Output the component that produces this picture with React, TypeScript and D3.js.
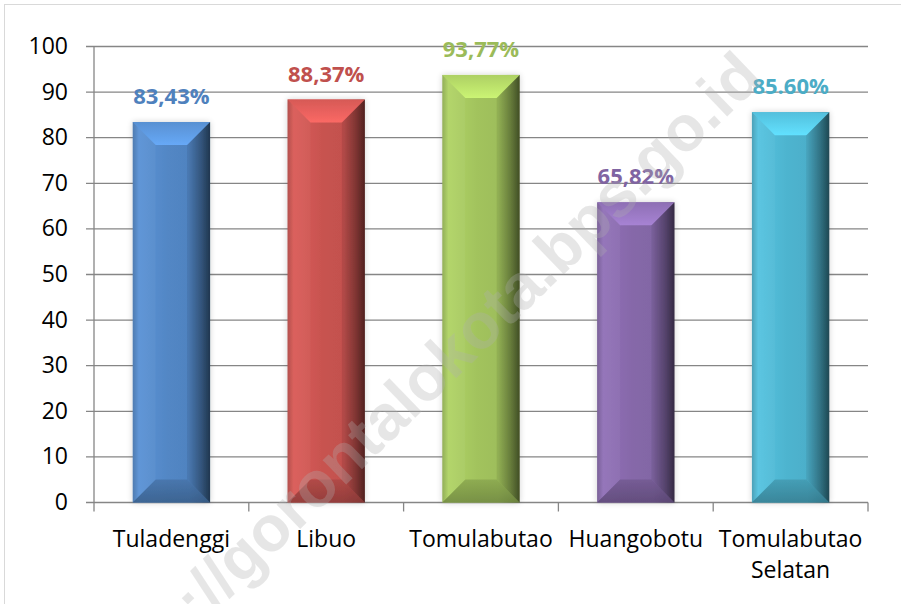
import React from 'react';
import * as d3 from 'd3';

// Data
const categories = ['Tuladenggi', 'Libuo', 'Tomulabutao', 'Huangobotu', 'Tomulabutao Selatan'];
const values = [83.43, 88.37, 93.77, 65.82, 85.6];
const valueLabels = ['83,43%', '88,37%', '93,77%', '65,82%', '85.60%'];
const yTicks = [0, 10, 20, 30, 40, 50, 60, 70, 80, 90, 100];
const barColors = ['#4F81BD', '#C0504D', '#9BBB59', '#8064A2', '#4BACC6'];
const labelColors = ['#4F81BD', '#C0504D', '#9BBB59', '#8064A2', '#4BACC6'];

const W = 901;
const H = 604;
const margin = { left: 94, right: 33, top: 46.5, bottom: 101.5 };
const font = '"Open Sans", Lato, sans-serif';

export default function App() {
  const x = d3.scaleBand<string>().domain(categories).range([margin.left, W - margin.right]).padding(0);
  const y = d3.scaleLinear().domain([0, 100]).range([H - margin.bottom, margin.top]);
  const barW = x.bandwidth() * 0.5;
  const bev = 23;
  const gridColor = '#868686';

  return (
    <svg width={W} height={H} style={{ position: 'absolute', left: 0, top: 0, background: '#fff' }}>
      <defs>
        {barColors.map((c, i) => {
          const base = d3.color(c)!;
          const light = d3.color(c)!.brighter(0.35);
          const dark = d3.color(c)!.darker(2.2);
          return (
            <React.Fragment key={i}>
              <linearGradient id={`side${i}`} x1="0" x2="1" y1="0" y2="0">
                <stop offset="0" stopColor={d3.color(c)!.darker(0.25).formatHex()} />
                <stop offset="0.08" stopColor={light.formatHex()} />
                <stop offset="0.45" stopColor={base.brighter(0.12).formatHex()} />
                <stop offset="0.72" stopColor={base.brighter(0.05).formatHex()} />
                <stop offset="0.88" stopColor={d3.color(c)!.darker(0.9).formatHex()} />
                <stop offset="1" stopColor={dark.formatHex()} />
              </linearGradient>
              <linearGradient id={`top${i}`} x1="0" x2="0" y1="0" y2="1">
                <stop offset="0" stopColor={d3.color(c)!.brighter(0.3).formatHex()} />
                <stop offset="1" stopColor={d3.color(c)!.brighter(0.75).formatHex()} />
              </linearGradient>
              <linearGradient id={`bot${i}`} x1="0" x2="0" y1="0" y2="1">
                <stop offset="0" stopColor={d3.color(c)!.darker(0.3).formatHex()} />
                <stop offset="1" stopColor={d3.color(c)!.darker(0.9).formatHex()} />
              </linearGradient>
            </React.Fragment>
          );
        })}
        <filter id="glow" x="-20%" y="-10%" width="140%" height="120%">
          <feGaussianBlur in="SourceAlpha" stdDeviation="3" />
          <feComponentTransfer>
            <feFuncA type="linear" slope="0.18" />
          </feComponentTransfer>
          <feMerge>
            <feMergeNode />
            <feMergeNode in="SourceGraphic" />
          </feMerge>
        </filter>
      </defs>

      {/* outer frame */}
      <rect x={4.5} y={4.5} width={W} height={H} fill="none" stroke="#d9d9d9" strokeWidth={1} />

      {/* gridlines and y ticks */}
      {yTicks.map(t => (
        <line key={t} x1={margin.left - 8} x2={W - margin.right} y1={y(t)} y2={y(t)} stroke={gridColor} strokeWidth={1.3} />
      ))}
      {yTicks.map(t => (
        <text key={'l' + t} x={68} y={y(t)} dy="0.33em" textAnchor="end" fontFamily={font} fontSize={23} fill="#000">
          {t}
        </text>
      ))}
      <line x1={margin.left} x2={margin.left} y1={margin.top} y2={y(0)} stroke={gridColor} strokeWidth={1.3} />

      {/* x ticks */}
      {categories.concat(['end']).map((c, i) => {
        const px = margin.left + i * x.step();
        return <line key={'xt' + i} x1={px} x2={px} y1={y(0)} y2={y(0) + 9} stroke={gridColor} strokeWidth={1.3} />;
      })}

      {/* bars */}
      {categories.map((c, i) => {
        const cx = x(c)! + x.bandwidth() / 2;
        const x0 = cx - barW / 2;
        const x1 = cx + barW / 2;
        const yt = y(values[i]);
        const yb = y(0);
        return (
          <g key={c} filter="url(#glow)">
            <rect x={x0} y={yt} width={barW} height={yb - yt} fill={`url(#side${i})`} />
            <path d={`M${x0},${yt}L${x1},${yt}L${x1 - bev},${yt + bev}L${x0 + bev},${yt + bev}Z`} fill={`url(#top${i})`} />
            <path d={`M${x0},${yt}L${x0 + bev},${yt + bev}L${x0 + bev},${yb - bev}L${x0},${yb}Z`} fill="#fff" opacity={0.04} />
            <path d={`M${x1},${yt}L${x1 - bev},${yt + bev}L${x1 - bev},${yb - bev}L${x1},${yb}Z`} fill="#000" opacity={0.08} />
            <path d={`M${x0},${yb}L${x1},${yb}L${x1 - bev},${yb - bev}L${x0 + bev},${yb - bev}Z`} fill={`url(#bot${i})`} opacity={0.85} />
          </g>
        );
      })}

      {/* value labels */}
      {categories.map((c, i) => (
        <text key={'v' + c} x={x(c)! + x.bandwidth() / 2} y={y(values[i]) - 18} textAnchor="middle" fontFamily={font} fontWeight="bold" fontSize={22} fill={labelColors[i]}>
          {valueLabels[i]}
        </text>
      ))}

      {/* category labels */}
      {categories.map((c, i) => {
        const cx = x(c)! + x.bandwidth() / 2;
        const words = c === 'Tomulabutao Selatan' ? ['Tomulabutao', 'Selatan'] : [c];
        return (
          <text key={'c' + c} x={cx} y={547} textAnchor="middle" fontFamily={font} fontSize={23} fill="#000">
            {words.map((w, j) => (
              <tspan key={j} x={cx} dy={j === 0 ? 0 : 31}>{w}</tspan>
            ))}
          </text>
        );
      })}

      {/* watermark */}
      <text x={765} y={80} textAnchor="end" transform="rotate(-44 765 80)" fontFamily='"Liberation Sans", Arial, sans-serif' fontWeight="bold" fontSize={64} fill="#b0b0b0" opacity={0.3}>
        http://gorontalokota.bps.go.id
      </text>
    </svg>
  );
}
